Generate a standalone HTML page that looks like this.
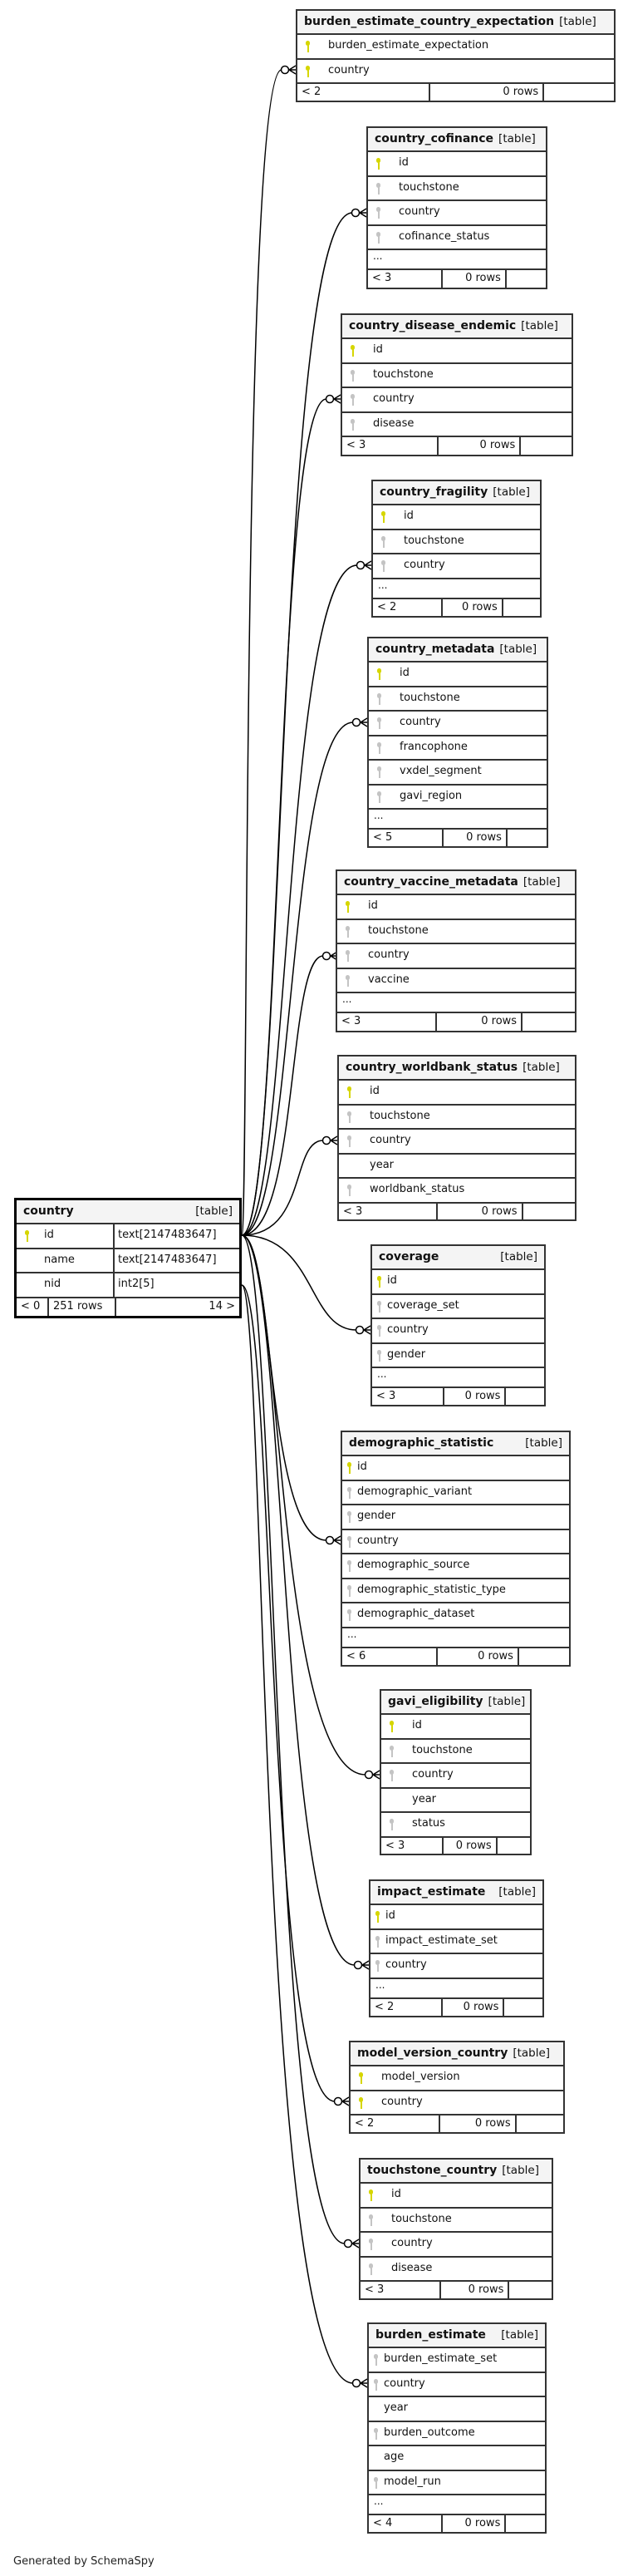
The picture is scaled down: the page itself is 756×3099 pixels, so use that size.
<!DOCTYPE html>
<html><head><meta charset="utf-8">
<style>
body{margin:0;background:#fff;font-family:"DejaVu Sans","Liberation Sans",sans-serif;color:#111}
#w{position:relative;width:756px;height:3099px;overflow:hidden}
svg{position:absolute;left:0;top:0}
.t{position:absolute;border:2px solid #333;box-sizing:border-box;background:#fff;display:flex;flex-direction:column}
.h{height:29px;flex:none;background:#f4f4f4;border-bottom:2px solid #333;box-sizing:border-box;padding:0 8px;font-weight:bold;font-size:14px;line-height:26px;white-space:nowrap;display:flex;gap:6px}
.h span{font-weight:normal;font-size:13.5px}
.h.sb{justify-content:space-between}
.r{height:29.5px;flex:none;border-bottom:2px solid #333;box-sizing:border-box;position:relative;padding-left:37px;line-height:26px;font-size:13px;white-space:nowrap}
.r.n{padding-left:18px}
.d{height:24px;flex:none;border-bottom:2px solid #333;box-sizing:border-box;padding-left:6px;font-size:12px;line-height:14px}
.f{flex:1;display:flex;font-size:13px;line-height:20px}
.f div{box-sizing:border-box;border-right:2px solid #333;padding:0 5px}
.f div:last-child{border-right:none}
.f .a{width:42%}.f .b{width:36%;text-align:right}.f .c{flex:1}
.k{position:absolute;left:10px;top:7px;width:5px;height:15px}
.k::before{content:"";position:absolute;left:0;top:0;width:5px;height:6px;border-radius:3px;background:#d6d600}
.k::after{content:"";position:absolute;left:1.5px;top:4px;width:2.5px;height:10px;background:#d6d600}
.k.g::before,.k.g::after{background:#c4c4c4}
.r.n .k{left:6px}
#c{border:3px solid #000}
#c .r{padding-left:0;display:flex}
#c .r .x{width:118px;padding-left:33px;box-sizing:border-box;border-right:2px solid #333}
#c .r .y{padding-left:4px}
.gen{position:absolute;left:16px;top:3074px;font-size:13px;color:#222}
</style></head><body><div id="w">
<svg width="756" height="3099" fill="none" stroke="#000" stroke-width="1.5">
<g>
<path d="M291,1486 C300,1486 290,84 339,84"/>
<path d="M291,1486 C345,1486 330,256 424,256"/>
<path d="M291,1486 C340,1486 330,480 393,480"/>
<path d="M291,1486 C350,1486 340,680 430,680"/>
<path d="M291,1486 C355,1486 345,869 425,869"/>
<path d="M291,1486 C360,1486 345,1150 389,1150"/>
<path d="M291,1486 C370,1486 350,1372 389,1372"/>
<path d="M291,1486 C380,1486 370,1600 429,1600"/>
<path d="M291,1486 C330,1486 320,1853 393,1853"/>
<path d="M291,1486 C340,1486 330,2135 440,2135"/>
<path d="M291,1486 C345,1486 335,2364 427,2364"/>
<path d="M291,1546 C330,1546 320,2528 403,2528"/>
<path d="M291,1486 C335,1486 325,2699 415,2699"/>
<path d="M291,1546 C320,1546 310,2867 425,2867"/>
</g>
<g fill="#fff">
<circle cx="343" cy="84" r="4.5"/><circle cx="428" cy="256" r="4.5"/><circle cx="397" cy="480" r="4.5"/>
<circle cx="434" cy="680" r="4.5"/><circle cx="429" cy="869" r="4.5"/><circle cx="393" cy="1150" r="4.5"/>
<circle cx="393" cy="1372" r="4.5"/><circle cx="433" cy="1600" r="4.5"/><circle cx="397" cy="1853" r="4.5"/>
<circle cx="444" cy="2135" r="4.5"/><circle cx="431" cy="2364" r="4.5"/><circle cx="407" cy="2528" r="4.5"/>
<circle cx="419" cy="2699" r="4.5"/><circle cx="429" cy="2867" r="4.5"/>
</g>
<g>
<path d="M348,84 H356 M348,84 L356,79 M348,84 L356,89"/>
<path d="M433,256 H441 M433,256 L441,251 M433,256 L441,261"/>
<path d="M402,480 H410 M402,480 L410,475 M402,480 L410,485"/>
<path d="M439,680 H447 M439,680 L447,675 M439,680 L447,685"/>
<path d="M434,869 H442 M434,869 L442,864 M434,869 L442,874"/>
<path d="M398,1150 H406 M398,1150 L406,1145 M398,1150 L406,1155"/>
<path d="M398,1372 H406 M398,1372 L406,1367 M398,1372 L406,1377"/>
<path d="M438,1600 H446 M438,1600 L446,1595 M438,1600 L446,1605"/>
<path d="M402,1853 H410 M402,1853 L410,1848 M402,1853 L410,1858"/>
<path d="M449,2135 H457 M449,2135 L457,2130 M449,2135 L457,2140"/>
<path d="M436,2364 H444 M436,2364 L444,2359 M436,2364 L444,2369"/>
<path d="M412,2528 H420 M412,2528 L420,2523 M412,2528 L420,2533"/>
<path d="M424,2699 H432 M424,2699 L432,2694 M424,2699 L432,2704"/>
<path d="M434,2867 H442 M434,2867 L442,2862 M434,2867 L442,2872"/>
</g>
</svg>

<div class="t" style="left:356px;top:11px;width:385px;height:112px">
<div class="h">burden_estimate_country_expectation <span>[table]</span></div>
<div class="r"><i class="k"></i>burden_estimate_expectation</div>
<div class="r"><i class="k"></i>country</div>
<div class="f"><div class="a">&lt; 2</div><div class="b">0 rows</div><div class="c"></div></div>
</div>

<div class="t" style="left:441px;top:152px;width:218px;height:196px">
<div class="h">country_cofinance <span>[table]</span></div>
<div class="r"><i class="k"></i>id</div>
<div class="r"><i class="k g"></i>touchstone</div>
<div class="r"><i class="k g"></i>country</div>
<div class="r"><i class="k g"></i>cofinance_status</div>
<div class="d">...</div>
<div class="f"><div class="a">&lt; 3</div><div class="b">0 rows</div><div class="c"></div></div>
</div>

<div class="t" style="left:410px;top:377px;width:280px;height:172px">
<div class="h">country_disease_endemic <span>[table]</span></div>
<div class="r"><i class="k"></i>id</div>
<div class="r"><i class="k g"></i>touchstone</div>
<div class="r"><i class="k g"></i>country</div>
<div class="r"><i class="k g"></i>disease</div>
<div class="f"><div class="a">&lt; 3</div><div class="b">0 rows</div><div class="c"></div></div>
</div>

<div class="t" style="left:447px;top:577px;width:205px;height:166px">
<div class="h">country_fragility <span>[table]</span></div>
<div class="r"><i class="k"></i>id</div>
<div class="r"><i class="k g"></i>touchstone</div>
<div class="r"><i class="k g"></i>country</div>
<div class="d">...</div>
<div class="f"><div class="a">&lt; 2</div><div class="b">0 rows</div><div class="c"></div></div>
</div>

<div class="t" style="left:442px;top:766px;width:218px;height:254px">
<div class="h">country_metadata <span>[table]</span></div>
<div class="r"><i class="k"></i>id</div>
<div class="r"><i class="k g"></i>touchstone</div>
<div class="r"><i class="k g"></i>country</div>
<div class="r"><i class="k g"></i>francophone</div>
<div class="r"><i class="k g"></i>vxdel_segment</div>
<div class="r"><i class="k g"></i>gavi_region</div>
<div class="d">...</div>
<div class="f"><div class="a">&lt; 5</div><div class="b">0 rows</div><div class="c"></div></div>
</div>

<div class="t" style="left:404px;top:1046px;width:290px;height:196px">
<div class="h">country_vaccine_metadata <span>[table]</span></div>
<div class="r"><i class="k"></i>id</div>
<div class="r"><i class="k g"></i>touchstone</div>
<div class="r"><i class="k g"></i>country</div>
<div class="r"><i class="k g"></i>vaccine</div>
<div class="d">...</div>
<div class="f"><div class="a">&lt; 3</div><div class="b">0 rows</div><div class="c"></div></div>
</div>

<div class="t" style="left:406px;top:1269px;width:288px;height:200px">
<div class="h">country_worldbank_status <span>[table]</span></div>
<div class="r"><i class="k"></i>id</div>
<div class="r"><i class="k g"></i>touchstone</div>
<div class="r"><i class="k g"></i>country</div>
<div class="r">year</div>
<div class="r"><i class="k g"></i>worldbank_status</div>
<div class="f"><div class="a">&lt; 3</div><div class="b">0 rows</div><div class="c"></div></div>
</div>

<div class="t" id="c" style="left:17px;top:1441px;width:274px;height:145px">
<div class="h sb">country <span>[table]</span></div>
<div class="r"><div class="x" style="position:relative"><i class="k"></i>id</div><div class="y">text[2147483647]</div></div>
<div class="r"><div class="x">name</div><div class="y">text[2147483647]</div></div>
<div class="r"><div class="x">nid</div><div class="y">int2[5]</div></div>
<div class="f"><div style="width:39px">&lt; 0</div><div style="width:81px">251 rows</div><div style="flex:1;text-align:right">14 &gt;</div></div>
</div>

<div class="t" style="left:446px;top:1497px;width:211px;height:195px">
<div class="h sb">coverage <span>[table]</span></div>
<div class="r n"><i class="k"></i>id</div>
<div class="r n"><i class="k g"></i>coverage_set</div>
<div class="r n"><i class="k g"></i>country</div>
<div class="r n"><i class="k g"></i>gender</div>
<div class="d">...</div>
<div class="f"><div class="a">&lt; 3</div><div class="b">0 rows</div><div class="c"></div></div>
</div>

<div class="t" style="left:410px;top:1721px;width:277px;height:284px">
<div class="h sb">demographic_statistic <span>[table]</span></div>
<div class="r n"><i class="k"></i>id</div>
<div class="r n"><i class="k g"></i>demographic_variant</div>
<div class="r n"><i class="k g"></i>gender</div>
<div class="r n"><i class="k g"></i>country</div>
<div class="r n"><i class="k g"></i>demographic_source</div>
<div class="r n"><i class="k g"></i>demographic_statistic_type</div>
<div class="r n"><i class="k g"></i>demographic_dataset</div>
<div class="d">...</div>
<div class="f"><div class="a">&lt; 6</div><div class="b">0 rows</div><div class="c"></div></div>
</div>

<div class="t" style="left:457px;top:2032px;width:183px;height:200px">
<div class="h">gavi_eligibility <span>[table]</span></div>
<div class="r"><i class="k"></i>id</div>
<div class="r"><i class="k g"></i>touchstone</div>
<div class="r"><i class="k g"></i>country</div>
<div class="r">year</div>
<div class="r"><i class="k g"></i>status</div>
<div class="f"><div class="a">&lt; 3</div><div class="b">0 rows</div><div class="c"></div></div>
</div>

<div class="t" style="left:444px;top:2261px;width:211px;height:166px">
<div class="h sb">impact_estimate <span>[table]</span></div>
<div class="r n"><i class="k"></i>id</div>
<div class="r n"><i class="k g"></i>impact_estimate_set</div>
<div class="r n"><i class="k g"></i>country</div>
<div class="d">...</div>
<div class="f"><div class="a">&lt; 2</div><div class="b">0 rows</div><div class="c"></div></div>
</div>

<div class="t" style="left:420px;top:2455px;width:260px;height:112px">
<div class="h">model_version_country <span>[table]</span></div>
<div class="r"><i class="k"></i>model_version</div>
<div class="r"><i class="k"></i>country</div>
<div class="f"><div class="a">&lt; 2</div><div class="b">0 rows</div><div class="c"></div></div>
</div>

<div class="t" style="left:432px;top:2596px;width:234px;height:171px">
<div class="h">touchstone_country <span>[table]</span></div>
<div class="r"><i class="k"></i>id</div>
<div class="r"><i class="k g"></i>touchstone</div>
<div class="r"><i class="k g"></i>country</div>
<div class="r"><i class="k g"></i>disease</div>
<div class="f"><div class="a">&lt; 3</div><div class="b">0 rows</div><div class="c"></div></div>
</div>

<div class="t" style="left:442px;top:2794px;width:216px;height:254px">
<div class="h sb">burden_estimate <span>[table]</span></div>
<div class="r n"><i class="k g"></i>burden_estimate_set</div>
<div class="r n"><i class="k g"></i>country</div>
<div class="r n">year</div>
<div class="r n"><i class="k g"></i>burden_outcome</div>
<div class="r n">age</div>
<div class="r n"><i class="k g"></i>model_run</div>
<div class="d">...</div>
<div class="f"><div class="a">&lt; 4</div><div class="b">0 rows</div><div class="c"></div></div>
</div>

<div class="gen">Generated by SchemaSpy</div>
</div></body></html>
